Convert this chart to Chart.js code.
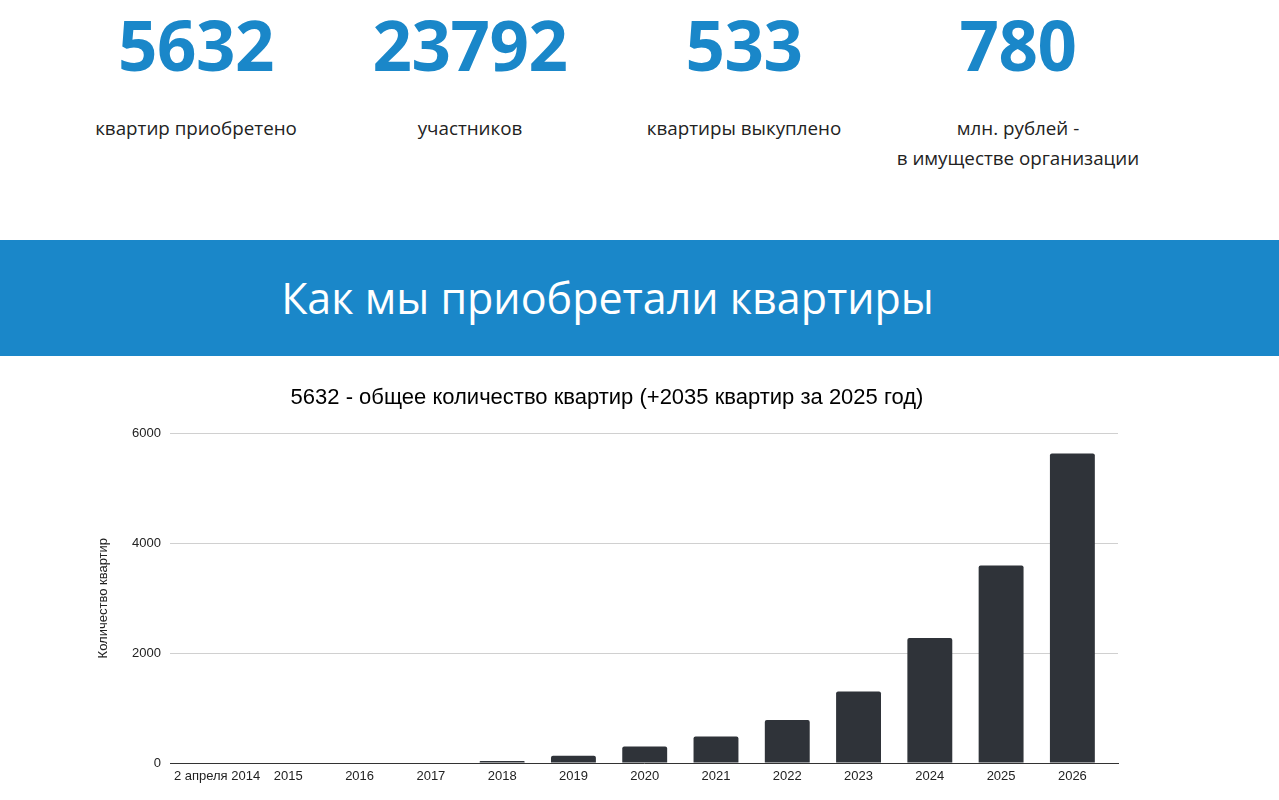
<!DOCTYPE html>
<html lang="ru">
<head>
<meta charset="utf-8">
<title>Как мы приобретали квартиры</title>
<script src="https://cdn.jsdelivr.net/npm/chart.js@4/dist/chart.umd.min.js"></script>
<style>
    html, body { margin: 0; padding: 0; background: #fff; overflow: hidden; }
    body { width: 1279px; height: 800px; position: relative; font-family: "Open Sans", sans-serif; }
    .stats { position: absolute; left: 59px; top: 0; width: 1096px; display: flex; }
    .stat { width: 274px; text-align: center; }
    .stat .num { margin-top: 10px; font-size: 69px; line-height: 1; font-weight: 700; color: #1a87c9; letter-spacing: -0.5px; }
    .stat .txt { margin-top: 34px; font-size: 18.8px; line-height: 30px; color: #222; }
    .banner { position: absolute; left: 0; top: 240px; width: 1279px; height: 116px; background: #1a87c9; }
    .banner h2 { margin: 0; width: 1215px; text-align: center; color: #fff; font-weight: 400;
                 font-size: 43px; line-height: 116px; }
    #grafico-wrap { position: absolute; left: 0; top: 370px; width: 1279px; height: 430px; }
</style>
</head>
<body>
<div class="stats">
    <div class="stat"><div class="num">5632</div><div class="txt">квартир приобретено</div></div>
    <div class="stat"><div class="num">23792</div><div class="txt">участников</div></div>
    <div class="stat"><div class="num">533</div><div class="txt">квартиры выкуплено</div></div>
    <div class="stat"><div class="num">780</div><div class="txt">млн. рублей -<br>в имуществе организации</div></div>
</div>
<div class="banner"><h2>Как мы приобретали квартиры</h2></div>
<div id="grafico-wrap"><canvas id="graficoKvartiry"></canvas></div>

<script>
// годы и накопленное количество квартир
const anos = [2014, 2015, 2016, 2017, 2018, 2019, 2020, 2021, 2022, 2023, 2024, 2025, 2026];
const kvartiry = [0, 0, 0, 0, 36, 133, 302, 484, 783, 1303, 2276, 3597, 5632];
const rotulosX = ['2 апреля 2014', '2015', '2016', '2017', '2018', '2019', '2020',
    '2021', '2022', '2023', '2024', '2025', '2026'];
const ticksY = [0, 2000, 4000, 6000];
const titulo = '5632 - общее количество квартир (+2035 квартир за 2025 год)';
const tituloY = 'Количество квартир';

inicializar();

function inicializar() {
    let ctx = document.getElementById('graficoKvartiry');
    let fonte = "'Liberation Sans', Arial, sans-serif";

    new Chart(ctx, {
        type: 'bar',
        data: {
            datasets: [
                {
                    label: tituloY,
                    data: anos.map((a, i) => ({x: a, y: kvartiry[i]})),
                    backgroundColor: '#2f3339',
                    borderRadius: 2,
                    borderSkipped: 'bottom',
                    categoryPercentage: 0.7,
                    barPercentage: 0.9
                }
            ]
        },
        options: {
            responsive: true,
            maintainAspectRatio: false,
            animation: false,
            layout: {
                padding: {left: 96, right: 161, top: 10, bottom: 0}
            },
            plugins: {
                legend: {display: false},
                tooltip: {enabled: false},
                title: {
                    display: true,
                    text: titulo,
                    color: '#000',
                    font: {family: fonte, size: 22, weight: 'normal'},
                    padding: {top: 5, bottom: 22}
                }
            },
            scales: {
                x: {
                    type: 'linear',
                    offset: false,
                    min: 2013.34,
                    max: 2026.64,
                    grid: {display: false, drawTicks: false},
                    border: {display: true, color: '#333', width: 1},
                    afterBuildTicks: (s) => {
                        s.ticks = anos.map((a) => ({value: a}));
                    },
                    afterFit: (s) => {
                        s.height = 37;
                    },
                    ticks: {
                        autoSkip: false,
                        maxRotation: 0,
                        padding: 6,
                        color: '#222',
                        font: {family: fonte, size: 13},
                        callback: (v) => rotulosX[anos.indexOf(v)]
                    }
                },
                y: {
                    min: 0,
                    max: 6000,
                    afterBuildTicks: (s) => {
                        s.ticks = ticksY.map((v) => ({value: v}));
                    },
                    afterFit: (s) => {
                        s.width = 74;
                    },
                    grid: {color: '#d0d0d0', drawTicks: false},
                    border: {display: false},
                    ticks: {
                        padding: 9,
                        color: '#222',
                        font: {family: fonte, size: 13},
                        callback: (v) => String(v)
                    },
                    title: {
                        display: true,
                        text: tituloY,
                        color: '#222',
                        font: {family: fonte, size: 13},
                        padding: 0
                    }
                }
            }
        }
    });
}
</script>
</body>
</html>
